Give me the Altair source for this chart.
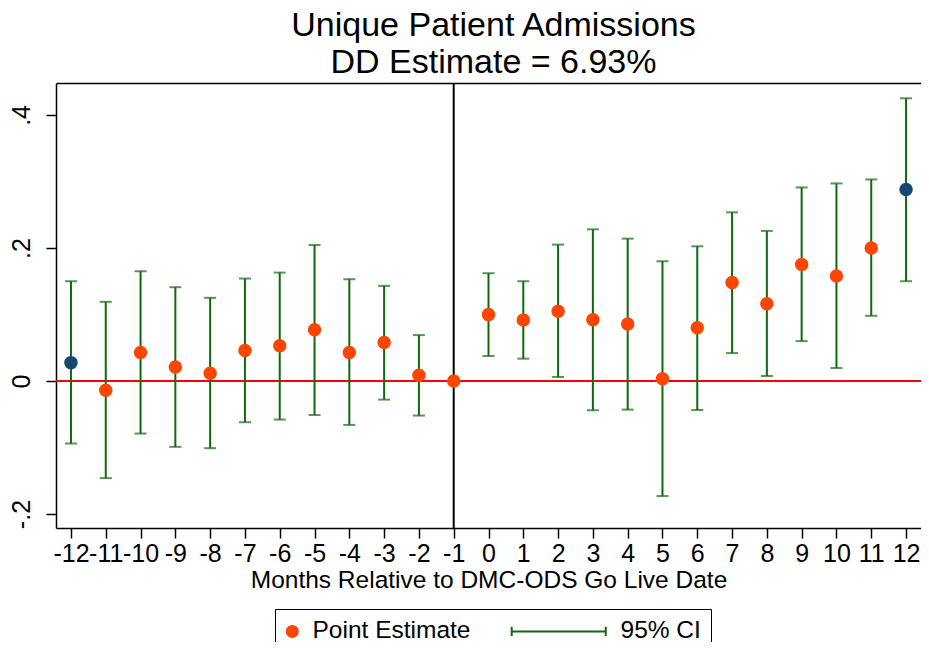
import altair as alt
import pandas as pd

# ---- data ----
months = list(range(-12, 13))
estimates = [0.0276, -0.014, 0.043, 0.021, 0.0115, 0.046, 0.053, 0.077, 0.043, 0.058, 0.0085, 0.0,
             0.0998, 0.0917, 0.105, 0.092, 0.0857, 0.0035, 0.080, 0.148, 0.116, 0.175, 0.158, 0.200, 0.288]
ci_low = [-0.094, -0.146, -0.079, -0.099, -0.101, -0.062, -0.058, -0.051, -0.066, -0.028, -0.052, None,
          0.0376, 0.0336, 0.006, -0.044, -0.043, -0.173, -0.0436, 0.042, 0.0075, 0.060, 0.0195, 0.098, 0.150]
ci_high = [0.150, 0.119, 0.165, 0.141, 0.125, 0.154, 0.163, 0.2045, 0.153, 0.143, 0.069, None,
           0.162, 0.150, 0.205, 0.228, 0.214, 0.180, 0.2025, 0.2536, 0.2256, 0.291, 0.297, 0.303, 0.425]
point_kind = ["end"] + ["Point Estimate"] * 23 + ["end"]
y_tick_values = [-0.2, 0, 0.2, 0.4]
ref_month = [-1]
ref_zero = [0]
title_lines = ["Unique Patient Admissions", "DD Estimate = 6.93%"]
x_title = "Months Relative to DMC-ODS Go Live Date"
legend_names = ["Point Estimate", "95% CI"]

df = pd.DataFrame({"month": months, "est": estimates, "lo": ci_low, "hi": ci_high, "kind": point_kind})
ci_df = df.dropna(subset=["lo"])

ORANGE = "#ff4500"
NAVY = "#1a476f"
GREEN = "#0f6a0f"
FONT = "Liberation Sans"

x_scale = alt.Scale(domain=[-12.43, 12.43], nice=False, zero=False)
y_scale = alt.Scale(domain=[-0.221, 0.448], nice=False, zero=False)

x_axis = alt.Axis(orient="bottom", values=months, title=x_title, labelExpr="'' + datum.value",
                  labelFontSize=25, titleFontSize=24.5, labelFont=FONT, titleFont=FONT,
                  labelColor="black", titleColor="black", titleFontWeight="normal",
                  labelOverlap=False, labelFlush=False, grid=False,
                  domain=True, domainColor="black", domainWidth=1.5,
                  tickSize=10, tickColor="black", tickWidth=1.5, labelPadding=3, titlePadding=2)
x_top_axis = alt.Axis(orient="top", labels=False, ticks=False, title=None, grid=False,
                      domain=True, domainColor="black", domainWidth=1.5)
y_axis = alt.Axis(orient="left", values=y_tick_values, title=None,
                  labelExpr="datum.value == 0 ? '0' : replace('' + datum.value, '0.', '.')",
                  labelAngle=-90, labelAlign="center", labelBaseline="alphabetic",
                  labelFontSize=25, labelFont=FONT, labelColor="black", labelPadding=17,
                  domain=True, domainColor="black", domainWidth=1.5,
                  grid=False, tickSize=10, tickColor="black", tickWidth=1.5)

kinds = ["Point Estimate", "95% CI", "end"]
ci_path = "M-16.1,0H1M-16.1,-0.85V0.85M1,-0.85V0.85"
legend = alt.Legend(title=None, orient="none", legendX=219, legendY=526, direction="horizontal",
                    columns=2, values=legend_names, symbolSize=121, symbolStrokeWidth=2,
                    symbolOffset=-5,
                    labelFontSize=24.5, labelFont=FONT, labelColor="black", labelOffset=8,
                    labelLimit=600, padding=10, strokeColor="black", fillColor="white",
                    columnPadding=36)

zero_line = alt.Chart(pd.DataFrame({"y": ref_zero})).mark_rule(color="#ff0000", strokeWidth=2).encode(
    y=alt.Y("y:Q", scale=y_scale, axis=y_axis))
v_line = alt.Chart(pd.DataFrame({"x": ref_month})).mark_rule(color="black", strokeWidth=2).encode(
    x=alt.X("x:Q", scale=x_scale, axis=x_axis))

bars = alt.Chart(ci_df).mark_rule(color=GREEN, strokeWidth=2).encode(
    x=alt.X("month:Q", scale=x_scale, axis=None),
    y=alt.Y("lo:Q", scale=y_scale, axis=None), y2="hi:Q")
caps_lo = alt.Chart(ci_df).mark_tick(color=GREEN, thickness=2, size=12, orient="horizontal").encode(
    x=alt.X("month:Q", scale=x_scale, axis=None), y=alt.Y("lo:Q", scale=y_scale, axis=None))
caps_hi = alt.Chart(ci_df).mark_tick(color=GREEN, thickness=2, size=12, orient="horizontal").encode(
    x=alt.X("month:Q", scale=x_scale, axis=x_top_axis), y=alt.Y("hi:Q", scale=y_scale, axis=None))

points = alt.Chart(df).mark_point(filled=True, size=132, strokeWidth=2, opacity=1).encode(
    x=alt.X("month:Q", scale=x_scale, axis=None),
    y=alt.Y("est:Q", scale=y_scale, axis=None),
    fill=alt.Fill("kind:N", scale=alt.Scale(domain=kinds, range=[ORANGE, GREEN, NAVY]), legend=legend),
    stroke=alt.Stroke("kind:N", scale=alt.Scale(domain=kinds, range=[ORANGE, GREEN, NAVY]), legend=legend),
    shape=alt.Shape("kind:N", scale=alt.Scale(domain=kinds, range=["circle", ci_path, "circle"]), legend=legend),
)

chart = alt.layer(zero_line, v_line, bars, caps_lo, caps_hi, points).resolve_axis(
    x="independent", y="independent"
).properties(
    width=865, height=445,
    autosize=alt.AutoSizeParams(type="none"),
    padding={"left": 48, "top": 75, "right": 0, "bottom": 114},
    background="white",
    title=alt.TitleParams(text=title_lines, fontSize=34, font=FONT, fontWeight="normal", color="black",
                          lineHeight=37, anchor="middle", offset=2, dx=5),
).configure_view(stroke=None)

chart.save("out.html", embed_options={"renderer": "svg", "actions": False})
